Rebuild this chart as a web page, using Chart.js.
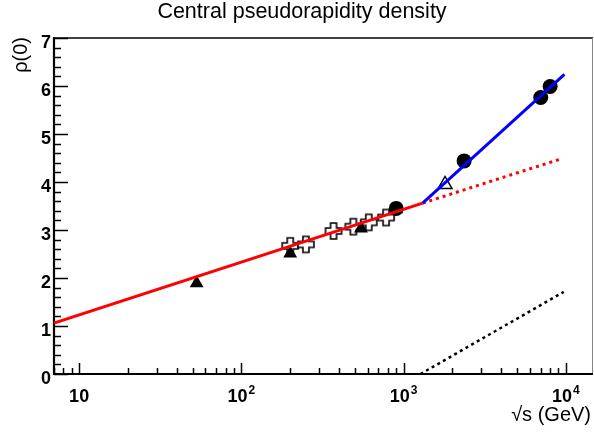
<!DOCTYPE html>
<html>
<head>
<meta charset="utf-8">
<script src="https://cdn.jsdelivr.net/npm/chart.js@4.4.1/dist/chart.umd.min.js"></script>
<style>
  body { margin: 0; background: #fff; }
  canvas { display: block; }
</style>
</head>
<body>
<canvas id="myChart" width="594" height="435"></canvas>
<script>
// data (sqrt(s) in GeV, rho(0))
var triEnergy = [53, 200, 546, 900];
var triRho = [1.89, 2.51, 3.03, 3.43];
var openTriEnergy = [1800];
var openTriRho = [3.95];
var circEnergy = [900, 2360, 7000, 8000];
var circRho = [3.45, 4.44, 5.76, 5.99];
var crossEnergy = [200, 250, 370, 490, 610, 780];
var crossRho = [2.67, 2.70, 2.98, 3.07, 3.16, 3.26];

var redSolidE = [7, 1310];
var redSolidRho = [1.06, 3.56];
var redDotE = [1310, 9500];
var redDotRho = [3.56, 4.49];
var blueE = [1310, 9800];
var blueRho = [3.56, 6.24];
var blackDotE = [1270, 9700];
var blackDotRho = [0, 1.71];

var yTicks = [0, 1, 2, 3, 4, 5, 6, 7];
var xTicks = [10, 100, 1000, 10000];
var xExp = ['', '2', '3', '4'];

function pts(xs, ys) {
    return xs.map(function (x, i) { return {x: x, y: ys[i]}; });
}

// ROOT style open cross marker
var crossImg = document.createElement('canvas');
crossImg.width = 20; crossImg.height = 20;
(function () {
    var c = crossImg.getContext('2d');
    var m = 10, a = 3, L = 8;
    c.beginPath();
    c.moveTo(m - a, m - L); c.lineTo(m + a, m - L); c.lineTo(m + a, m - a);
    c.lineTo(m + L, m - a); c.lineTo(m + L, m + a); c.lineTo(m + a, m + a);
    c.lineTo(m + a, m + L); c.lineTo(m - a, m + L); c.lineTo(m - a, m + a);
    c.lineTo(m - L, m + a); c.lineTo(m - L, m - a); c.lineTo(m - a, m - a);
    c.closePath();
    c.fillStyle = '#fff'; c.fill();
    c.lineWidth = 1.6; c.strokeStyle = '#000'; c.stroke();
})();

var FONT = '"Liberation Sans", Arial, sans-serif';

var frame = {
    id: 'frame',
    beforeDatasetsDraw: function (chart) {
        var c = chart.ctx, a = chart.chartArea;
        var xs = chart.scales.x, ys = chart.scales.y;
        c.save();
        // frame
        c.strokeStyle = '#000';
        c.lineWidth = 1.5;
        c.beginPath(); c.moveTo(a.left, a.top); c.lineTo(a.right, a.top); c.stroke();
        c.strokeStyle = '#888';
        c.lineWidth = 1;
        c.beginPath(); c.moveTo(a.right - 0.5, a.top); c.lineTo(a.right - 0.5, a.bottom); c.stroke();
        c.strokeStyle = '#000';
        c.lineWidth = 2.2;
        c.beginPath();
        c.moveTo(a.left, a.top - 1); c.lineTo(a.left, a.bottom); c.lineTo(a.right, a.bottom);
        c.stroke();
        // y ticks
        c.lineWidth = 1.5;
        for (var v = 0; v <= 7.001; v += 0.2) {
            var py = Math.round(ys.getPixelForValue(v)) + 0.5;
            var major = Math.abs(v - Math.round(v)) < 0.01;
            c.beginPath(); c.moveTo(a.left, py); c.lineTo(a.left + (major ? 14 : 7), py); c.stroke();
        }
        // x ticks
        for (var d = 1; d <= 10000; d *= 10) {
            for (var k = 1; k <= 9; k++) {
                var e = d * k;
                if (e < xs.min || e > xs.max) continue;
                var px = Math.round(xs.getPixelForValue(e)) + 0.5;
                c.beginPath(); c.moveTo(px, a.bottom); c.lineTo(px, a.bottom - (k === 1 ? 11 : 6)); c.stroke();
            }
        }
        // tick labels
        c.fillStyle = '#000';
        c.textBaseline = 'alphabetic';
        c.font = 'bold 18px ' + FONT;
        c.textAlign = 'right';
        yTicks.forEach(function (t) {
            c.fillText(String(t), a.left - 3, ys.getPixelForValue(t) + 10);
        });
        c.textAlign = 'left';
        xTicks.forEach(function (t, i) {
            var px = xs.getPixelForValue(t);
            c.font = 'bold 18px ' + FONT;
            var w1 = c.measureText('10').width;
            c.font = 'bold 12px ' + FONT;
            var w2 = xExp[i] ? c.measureText(xExp[i]).width + 1 : 0;
            var x0 = px - (w1 + w2) / 2;
            c.font = 'bold 18px ' + FONT;
            c.fillText('10', x0, 402);
            if (xExp[i]) {
                c.font = 'bold 12px ' + FONT;
                c.fillText(xExp[i], x0 + w1 + 1, 394);
            }
        });
        c.restore();
    },
    afterDraw: function (chart) {
        var c = chart.ctx;
        c.save();
        c.fillStyle = '#000';
        c.font = '21.5px ' + FONT;
        c.textAlign = 'center';
        c.textBaseline = 'alphabetic';
        c.fillText('Central pseudorapidity density', 302, 18);
        c.font = '20px ' + FONT;
        c.textAlign = 'right';
        c.fillText('\u221As (GeV)', 591, 421);
        c.translate(27, 37);
        c.rotate(-Math.PI / 2);
        c.textAlign = 'right';
        c.fillText('\u03C1(0)', 0, 0);
        c.restore();
    }
};

var graphData = {
    type: 'scatter',
    data: {
        datasets: [
            {
                type: 'line', data: pts(blueE, blueRho),
                borderColor: '#0000ff', borderWidth: 3, pointRadius: 0, fill: false
            },
            {
                type: 'line', data: pts(redSolidE, redSolidRho),
                borderColor: '#ff0000', borderWidth: 3, pointRadius: 0, fill: false
            },
            {
                type: 'line', data: pts(redDotE, redDotRho),
                borderColor: '#ff0000', borderWidth: 3, borderDash: [3, 4], pointRadius: 0, fill: false
            },
            {
                type: 'line', data: pts(blackDotE, blackDotRho),
                borderColor: '#000000', borderWidth: 2.5, borderDash: [3, 3.5], pointRadius: 0, fill: false
            },
            {
                data: pts(circEnergy, circRho),
                pointStyle: 'circle', pointRadius: 7.5,
                backgroundColor: '#000', borderColor: '#000', borderWidth: 0
            },
            {
                data: pts(openTriEnergy, openTriRho),
                pointStyle: 'triangle', pointRadius: 8,
                backgroundColor: '#fff', borderColor: '#000', borderWidth: 1.5
            },
            {
                data: pts(triEnergy, triRho),
                pointStyle: 'triangle', pointRadius: 8,
                backgroundColor: '#000', borderColor: '#000', borderWidth: 0
            },
            {
                data: pts(crossEnergy, crossRho),
                pointStyle: crossImg
            }
        ]
    },
    options: {
        responsive: false,
        animation: false,
        devicePixelRatio: 1,
        layout: {autoPadding: false, padding: {top: 38, right: 1, left: 54, bottom: 61}},
        plugins: {legend: {display: false}, tooltip: {enabled: false}},
        scales: {
            x: {
                type: 'logarithmic', min: 7, max: 14700,
                afterFit: function (s) { s.height = 0; s.paddingLeft = 0; s.paddingRight = 0; },
                grid: {display: false, drawTicks: false},
                border: {display: false},
                ticks: {display: false}
            },
            y: {
                type: 'linear', min: 0, max: 7,
                afterFit: function (s) { s.width = 0; s.paddingTop = 0; s.paddingBottom = 0; },
                grid: {display: false, drawTicks: false},
                border: {display: false},
                ticks: {display: false}
            }
        }
    },
    plugins: [frame]
};

var ctx = document.getElementById('myChart').getContext('2d');
var myChart = new Chart(ctx, graphData);
</script>
</body>
</html>
